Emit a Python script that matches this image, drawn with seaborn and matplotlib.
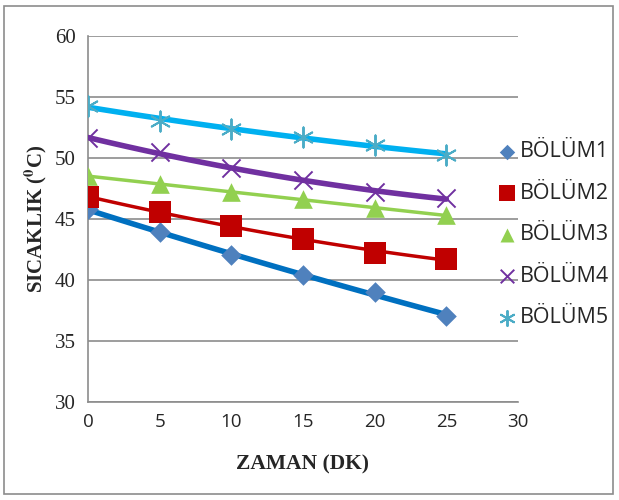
#imports
import numpy as np
import pandas as pd
import matplotlib
matplotlib.use("Agg")
import matplotlib.pyplot as plt
import seaborn as sns
from matplotlib.patches import Rectangle

#data
zaman = [0, 5, 10, 15, 20, 25]
bolum1 = [45.8, 43.9, 42.05, 40.4, 39.0, 37.05]
bolum2 = [46.8, 45.6, 44.4, 43.4, 42.25, 41.7]
bolum3 = [48.5, 47.9, 47.2, 46.6, 45.9, 45.3]
bolum4 = [51.6, 50.5, 49.15, 48.2, 47.2, 46.7]
bolum5 = [54.3, 53.0, 52.4, 51.75, 51.05, 50.25]
series_names = ["BÖLÜM1", "BÖLÜM2", "BÖLÜM3", "BÖLÜM4", "BÖLÜM5"]

#long table for seaborn
df = pd.DataFrame({"ZAMAN": zaman * 5,
                   "SICAKLIK": bolum1 + bolum2 + bolum3 + bolum4 + bolum5,
                   "BOLUM": np.repeat(series_names, len(zaman))})

sns.set_style("white")
plt.rcParams['font.family'] = ['Liberation Serif', 'DejaVu Serif']
plt.rcParams['mathtext.fontset'] = 'stix'

marker_colors = ["#4F81BD", "#C00000", "#92D050", "#7030A0", "#4BACC6"]
line_colors = ["#0070C0", "#C00000", "#92D050", "#7030A0", "#00B0F0"]
markers = ["D", "s", "^", "x", "*"]
msizes = [110, 260, 180, 170, 210]
lws = [4, 2.5, 2.5, 4, 4]

fig = plt.figure(figsize=(6.19, 5.0), dpi=100)
ax = fig.add_axes([88 / 619, 1 - 402 / 500, 430 / 619, 366 / 500])

for i, name in enumerate(series_names):
    sub = df[df["BOLUM"] == name]
    #smooth trend line (2nd order)
    sns.regplot(data=sub, x="ZAMAN", y="SICAKLIK", order=2, ci=None, scatter=False,
                truncate=True, ax=ax, line_kws=dict(color=line_colors[i], lw=lws[i], zorder=3))
    if markers[i] == "x":
        ax.scatter(sub["ZAMAN"], sub["SICAKLIK"], marker="x", s=msizes[i],
                   color=marker_colors[i], linewidths=1.4, zorder=4, label=name)
    elif markers[i] == "*":
        ax.scatter(sub["ZAMAN"], sub["SICAKLIK"], marker=(6, 2, 0), s=msizes[i],
                   color=marker_colors[i], linewidths=1.4, zorder=4, label=name)
    else:
        ax.scatter(sub["ZAMAN"], sub["SICAKLIK"], marker=markers[i], s=msizes[i],
                   color=marker_colors[i], linewidths=0, zorder=4, label=name)

ax.set_xlim(0, 30)
ax.set_ylim(30, 60)
ax.set_xticks(range(0, 31, 5))
ax.set_yticks(range(30, 61, 5))
ax.grid(axis="y", color="#8C8C8C", lw=1.2)
ax.set_axisbelow(True)
for s in ["top", "right"]:
    ax.spines[s].set_visible(False)
for s in ["left", "bottom"]:
    ax.spines[s].set_color("#8C8C8C")
    ax.spines[s].set_linewidth(1.2)
ax.tick_params(axis="x", direction="out", length=5, color="#8C8C8C", pad=3)
ax.tick_params(axis="y", direction="out", length=5, color="#8C8C8C", labelsize=15, pad=4)
for lab in ax.get_xticklabels():
    lab.set_family(['Open Sans', 'DejaVu Sans'])
    lab.set_fontsize(13.5)

ax.set_xlabel("ZAMAN (DK)", fontsize=15.5, fontweight="bold", labelpad=17)
ax.set_ylabel(r"SICAKLIK ($\mathbf{^0}$C)", fontsize=15, fontweight="bold", labelpad=4)

leg = ax.legend(loc="upper left", bbox_to_anchor=(0.9, 0.765), frameon=False,
                prop={'family': ['Open Sans', 'DejaVu Sans'], 'size': 15.5},
                handletextpad=0.0, labelspacing=0.95, handlelength=1.2, markerscale=0.75)

#outer border
fig.patches.append(Rectangle((4 / 619, 6 / 500), 609 / 619, 488 / 500, transform=fig.transFigure,
                             fill=False, edgecolor="#8C8C8C", lw=1.2))

plt.savefig("out.png", dpi=100)
